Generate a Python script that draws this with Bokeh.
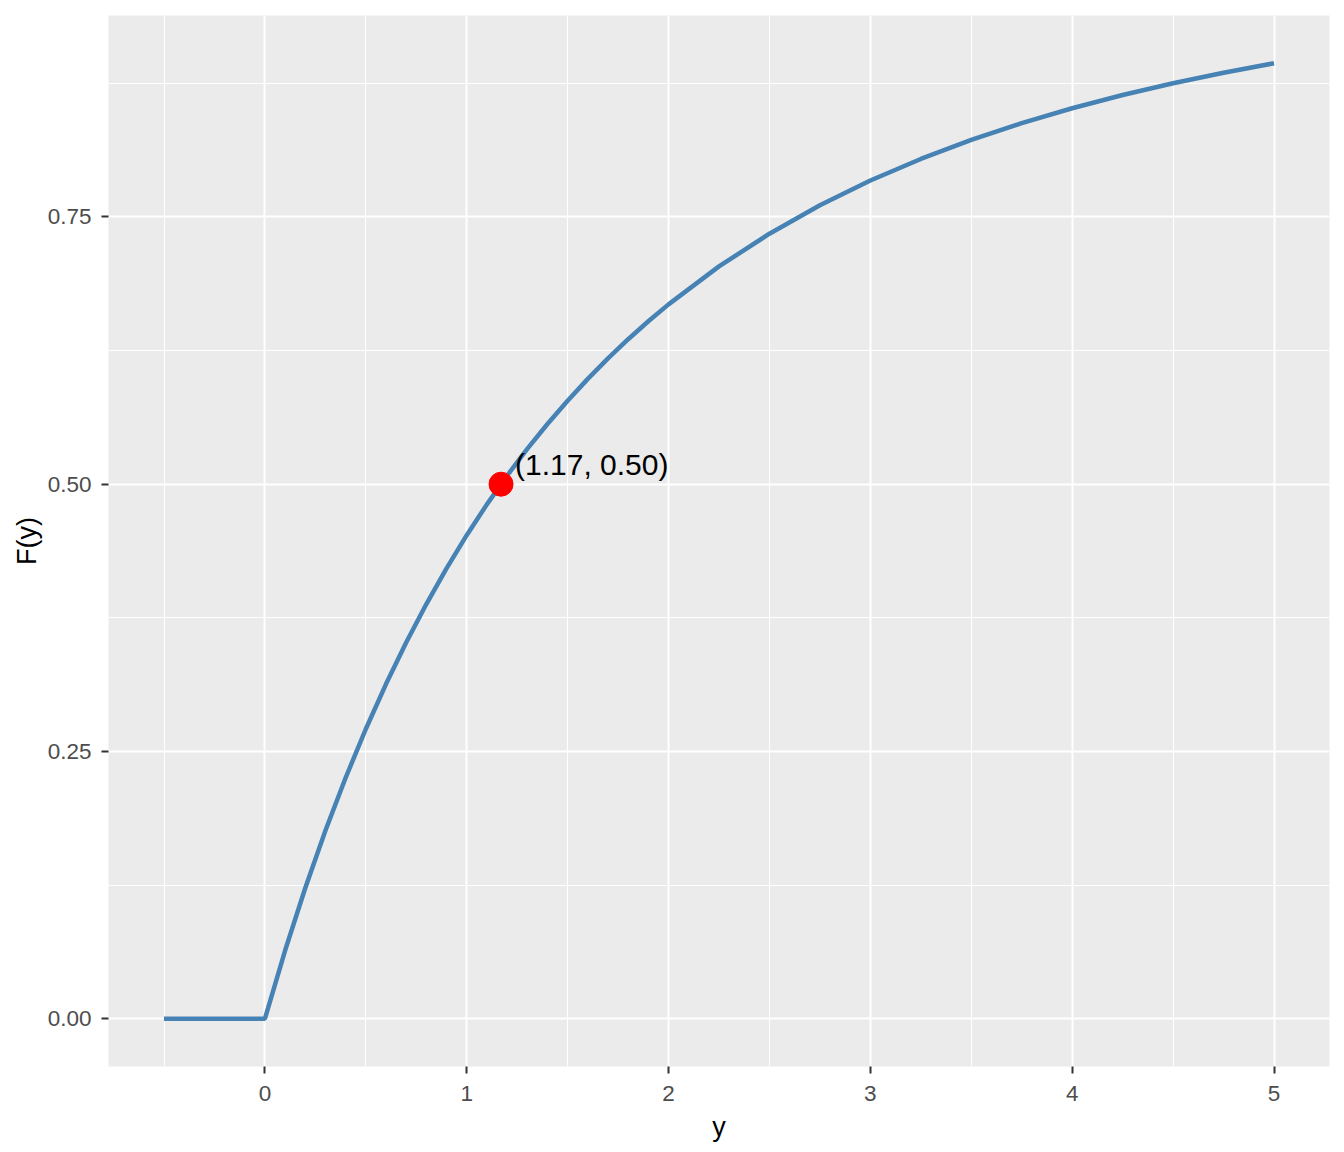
from bokeh.plotting import figure
from bokeh.models import Range1d, FixedTicker, ColumnDataSource, NumeralTickFormatter
from bokeh.core.properties import value
from bokeh.embed import file_html
from bokeh.resources import INLINE

# CDF values
y_vals = [-0.5, 0.0, 0.1, 0.2, 0.3, 0.4, 0.5, 0.6, 0.7, 0.8, 0.9, 1.0,
          1.1, 1.2, 1.3, 1.4, 1.5, 1.6, 1.7, 1.8, 1.9, 2.0,
          2.25, 2.5, 2.75, 3.0, 3.25, 3.5, 3.75, 4.0, 4.25, 4.5, 4.75, 5.0]
F_vals = [0.0, 0.0, 0.0638, 0.1223, 0.1760, 0.2254, 0.2710, 0.3130, 0.3519, 0.3879, 0.4213, 0.4523,
          0.4811, 0.5079, 0.5330, 0.5563, 0.5781, 0.5985, 0.6176, 0.6356, 0.6524, 0.6682,
          0.7037, 0.7343, 0.7609, 0.7840, 0.8042, 0.8220, 0.8377, 0.8516, 0.8640, 0.8750, 0.8849, 0.8937]

median_x = [1.17]
median_y = [0.50]
median_label = ["(%.2f, %.2f)" % (median_x[0], median_y[0])]

x_ticks = [0, 1, 2, 3, 4, 5]
x_minor = [-0.5, 0.5, 1.5, 2.5, 3.5, 4.5]
y_ticks = [0.0, 0.25, 0.5, 0.75]
y_minor = [0.125, 0.375, 0.625, 0.875]

xmin, xmax = min(y_vals), max(y_vals)
ymin, ymax = min(F_vals), max(F_vals)
xpad = (xmax - xmin) * 0.05
ypad = (ymax - ymin) * 0.05

FONT = "Liberation Sans"

p = figure(width=1344, height=1152, output_backend="svg", toolbar_location=None,
           x_range=Range1d(xmin - xpad, xmax + xpad),
           y_range=Range1d(ymin - ypad, ymax + ypad),
           min_border_left=108, min_border_right=15, min_border_top=15, min_border_bottom=86,
           x_axis_label="y", y_axis_label="F(y)")

p.background_fill_color = "#EBEBEB"
p.border_fill_color = "white"
p.outline_line_color = None

p.xaxis.ticker = FixedTicker(ticks=x_ticks, minor_ticks=x_minor)
p.yaxis.ticker = FixedTicker(ticks=y_ticks, minor_ticks=y_minor)
p.xgrid.ticker = FixedTicker(ticks=x_ticks, minor_ticks=x_minor)
p.ygrid.ticker = FixedTicker(ticks=y_ticks, minor_ticks=y_minor)
p.yaxis.formatter = NumeralTickFormatter(format="0.00")
p.xaxis.formatter = NumeralTickFormatter(format="0")

for g in (p.xgrid, p.ygrid):
    g.grid_line_color = "white"
    g.grid_line_width = 2
    g.minor_grid_line_color = "white"
    g.minor_grid_line_width = 1

for ax in (p.xaxis, p.yaxis):
    ax.axis_line_color = None
    ax.major_tick_line_color = "#333333"
    ax.major_tick_line_width = 2
    ax.major_tick_out = 7
    ax.major_tick_in = 0
    ax.minor_tick_line_color = None
    ax.major_label_text_font = FONT
    ax.major_label_text_font_size = "22.5px"
    ax.major_label_text_color = "#4D4D4D"
    ax.axis_label_text_font = FONT
    ax.axis_label_text_font_size = "27px"
    ax.axis_label_text_font_style = "normal"
    ax.axis_label_text_color = "black"

p.xaxis.major_label_standoff = 12
p.yaxis.major_label_standoff = 10
p.xaxis.axis_label_standoff = 8
p.yaxis.axis_label_standoff = 3

src = ColumnDataSource(data=dict(x=y_vals, y=F_vals))
p.line("x", "y", source=src, line_color="#4682B4", line_width=4.5)

msrc = ColumnDataSource(data=dict(x=median_x, y=median_y, label=median_label))
p.scatter("x", "y", source=msrc, size=24, fill_color="red", line_color="red")
p.text("x", "y", text="label", source=msrc, x_offset=14, y_offset=-20,
       text_align="left", text_baseline="middle", text_font=value(FONT),
       text_font_size="30px", text_color="black")

open("out.html", "w").write(file_html(p, INLINE))
